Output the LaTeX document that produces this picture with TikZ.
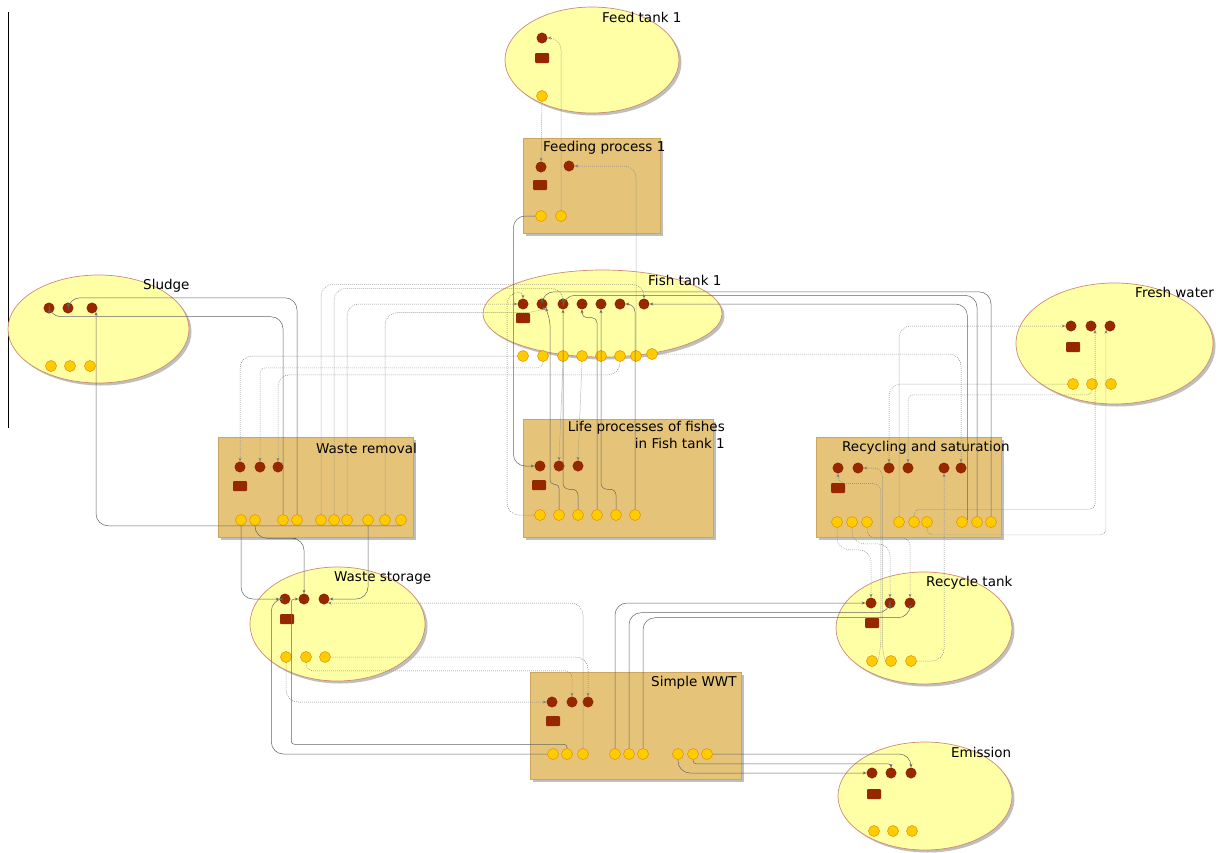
\documentclass[tikz,border=0pt]{standalone}
\usepackage{fontspec}
\setmainfont{DejaVu Sans}
\usetikzlibrary{shapes.geometric,shadows,calc,arrows.meta}
\definecolor{tankfill}{RGB}{255,255,165}
\definecolor{tankdraw}{RGB}{205,140,115}
\definecolor{procfill}{RGB}{229,196,122}
\definecolor{procdraw}{RGB}{205,165,95}
\definecolor{reddot}{RGB}{150,40,0}
\definecolor{ydot}{RGB}{255,204,0}
\definecolor{ydraw}{RGB}{225,140,0}
\definecolor{wire}{RGB}{100,100,100}
\definecolor{sigwire}{RGB}{125,125,125}
\begin{document}
\begin{tikzpicture}[x=1pt,y=-1pt,
  tank/.style={ellipse, draw=tankdraw, fill=tankfill, line width=0.7pt, inner sep=0pt,
    drop shadow={shadow xshift=2.5pt, shadow yshift=-2.5pt, fill=black!25, opacity=1}},
  proc/.style={rectangle, draw=procdraw, fill=procfill, line width=0.7pt, inner sep=0pt,
    drop shadow={shadow xshift=2.5pt, shadow yshift=-2.5pt, fill=black!25, opacity=1}},
  inp/.style={circle, fill=reddot, minimum size=11pt, inner sep=0pt},
  par/.style={rectangle, fill=reddot, minimum width=14pt, minimum height=10pt, inner sep=0pt, rounded corners=1pt},
  outp/.style={circle, fill=ydot, draw=ydraw, line width=0.5pt, minimum size=11pt, inner sep=0pt},
  lbl/.style={font=\fontsize{13.5}{17}\selectfont, inner sep=0pt, anchor=west},
  flow/.style={draw=wire, line width=0.5pt, rounded corners=12pt, -{Stealth[length=3.5pt,width=3pt]}},
  sig/.style={draw=sigwire, line width=0.5pt, rounded corners=12pt, dash pattern=on 0.8pt off 1.2pt, -{Stealth[length=3.5pt,width=3pt]}},
]
\useasboundingbox (0,0) rectangle (1223,852);
\fill[white] (0,0) rectangle (1223,852);
\draw[black, line width=0.8pt] (8,12) -- (8,428);

% containers
\node[tank, minimum width=174pt, minimum height=106pt] (ft) at (592,60) {};
\node[proc, minimum width=137pt, minimum height=95pt] (fp) at (591.5,185.5) {};
\node[tank, minimum width=239pt, minimum height=87pt] (fish) at (602.5,313.5) {};
\node[tank, minimum width=181pt, minimum height=108pt] (sl) at (98.5,329) {};
\node[tank, minimum width=197pt, minimum height=121pt] (fw) at (1114.5,343.5) {};
\node[proc, minimum width=195pt, minimum height=100pt] (wr) at (315.5,487) {};
\node[proc, minimum width=190pt, minimum height=118pt] (lp) at (618,478) {};
\node[proc, minimum width=185pt, minimum height=100pt] (rs) at (908.5,487) {};
\node[tank, minimum width=175pt, minimum height=114pt] (ws) at (337.5,624) {};
\node[tank, minimum width=176pt, minimum height=112pt] (rt) at (924,628) {};
\node[proc, minimum width=211pt, minimum height=107pt] (wwt) at (635.5,725.5) {};
\node[tank, minimum width=174pt, minimum height=108pt] (em) at (925,796) {};

% labels
\node[lbl] (ftl) at (602,17) {Feed tank 1};
\node[lbl] (fpl) at (543,148) {Feeding process 1};
\node[lbl] (fishl) at (648,280) {Fish tank 1};
\node[lbl] (sll) at (143,286) {Sludge};
\node[lbl] (fwl) at (1135,292) {Fresh water};
\node[lbl] (wrl) at (316,448) {Waste removal};
\node[lbl, anchor=north east, align=right] (lpl) at (725,421) {Life processes of fishes\\in Fish tank 1};
\node[lbl] (rsl) at (842,448) {Recycling and saturation};
\node[lbl] (wsl) at (334,578) {Waste storage};
\node[lbl] (rtl) at (926,583) {Recycle tank};
\node[lbl] (wwtl) at (651,683) {Simple WWT};
\node[lbl] (eml) at (951,752) {Emission};

% ports
\node[inp] (ftr1) at (542,38) {};
\node[par] (ftq) at (542,58) {};
\node[outp] (fty1) at (542,96) {};

\node[inp] (fpr1) at (541,167) {};
\node[inp] (fpr2) at (569,166) {};
\node[par] (fpq) at (540,185) {};
\node[outp] (fpy1) at (541,216) {};
\node[outp] (fpy2) at (561,216) {};

\foreach \x [count=\i] in {523,542,563,582,601,620,644} \node[inp] (fishr\i) at (\x,304) {};
\node[par] (fishq) at (523,318) {};
\foreach \x [count=\i] in {523,543,563,582,601,620,636} \node[outp] (fishy\i) at (\x,356) {};
\node[outp] (fishy8) at (652,354) {};

\foreach \x [count=\i] in {49,68,92} \node[inp] (slr\i) at (\x,308) {};
\foreach \x [count=\i] in {51,70,90} \node[outp] (sly\i) at (\x,366) {};

\foreach \x [count=\i] in {1071,1091,1110} \node[inp] (fwr\i) at (\x,326) {};
\node[par] (fwq) at (1073,347) {};
\foreach \x [count=\i] in {1073,1092,1111} \node[outp] (fwy\i) at (\x,384) {};

\foreach \x [count=\i] in {240,260,278} \node[inp] (wrr\i) at (\x,467) {};
\node[par] (wrq) at (240,486) {};
\foreach \x [count=\i] in {241,255,283,297,321,334,347,368,385,401} \node[outp] (wry\i) at (\x,520) {};

\foreach \x [count=\i] in {540,559,578} \node[inp] (lpr\i) at (\x,466) {};
\node[par] (lpq) at (539,485) {};
\foreach \x [count=\i] in {540,559,578,597,616,635} \node[outp] (lpy\i) at (\x,515) {};

\foreach \x [count=\i] in {838,858,889,908,944,961} \node[inp] (rsr\i) at (\x,468) {};
\node[par] (rsq) at (838,488) {};
\foreach \x [count=\i] in {837,852,867,899,914,927,962,977,991} \node[outp] (rsy\i) at (\x,522) {};

\foreach \x [count=\i] in {871,890,910} \node[inp] (rtr\i) at (\x,603) {};
\node[par] (rtq) at (872,623) {};
\foreach \x [count=\i] in {872,891,911} \node[outp] (rty\i) at (\x,661) {};

\foreach \x [count=\i] in {285,304,324} \node[inp] (wsr\i) at (\x,599) {};
\node[par] (wsq) at (287,619) {};
\foreach \x [count=\i] in {286,306,325} \node[outp] (wsy\i) at (\x,657) {};

\foreach \x [count=\i] in {552,572,588} \node[inp] (wwtr\i) at (\x,702) {};
\node[par] (wwtq) at (553,721) {};
\foreach \x [count=\i] in {553,567,583,615,629,643,678,693,707} \node[outp] (wwty\i) at (\x,754) {};

\foreach \x [count=\i] in {872,891,911} \node[inp] (emr\i) at (\x,773) {};
\node[par] (emq) at (874,794) {};
\foreach \x [count=\i] in {874,893,912} \node[outp] (emy\i) at (\x,831) {};

% ---- signal connectors (dotted)
\draw[sig] (fty1) -- (fpr1);
\draw[sig] (fpy2.north) |- (ftr1.east);
\draw[sig] (fishy7.north) |- (fpr2.east);
\draw[sig] (fishy1.west) -| (wrr1.north);
\draw[sig, rounded corners=5pt] (fishy2.south) -- ++(0,6) -| (wrr2.north);
\draw[sig] (fishy6.south) -- ++(0,13) -| (wrr3.north);
\draw[sig] (fishy3.south) -- (lpr2.north);
\draw[sig] (fishy4.south) -- (lpr3.north);
\draw[sig] (lpy1.west) -| ($(fishr1.north)+(-16,-6)$) [rounded corners=4pt] -| (fishr1.north);
\draw[sig] (wry5.north) |- ($(fishr7.north)+(0,-14)$) -- (fishr7.north);
\draw[sig] (wry6.north) |- ($(fishr3.north)+(0,-10)$) [rounded corners=5pt] -- (fishr3.north);
\draw[sig] (wry7.north) |- (fishr1.west);
\draw[sig] (wry9.north) |- ($(fishr2.south)+(-6,3)$) [rounded corners=3pt] -- (fishr2.south);
\draw[sig] (fwy1.west) -| (rsr3.north);
\draw[sig, rounded corners=5pt] (fwy2.south) -- ++(0,5) -| (rsr4.north);
\draw[sig] (fishy8.east) -| (rsr6.north);
\draw[sig] (rsy4.north) |- (fwr1.west);
\draw[sig, rounded corners=6pt] (rsy5.north) -- ++(0,-7) -| (fwr2.south east);
\draw[sig, rounded corners=6pt] (rsy6.south) -- ++(0,7) -| (fwr3.south west);
\draw[sig] (rsy1.south) -- ++(0,22) -| (rtr1.north);
\draw[sig] (rsy2.south) -- ++(0,16) -| (rtr2.north);
\draw[sig, rounded corners=8pt] (rsy3.south) -- ++(0,10) -| (rtr3.north);
\draw[sig, rounded corners=8pt] (rty1.east) -- ++(3,-12) |- ($(rsr1.south)+(0,10)$) -- (rsr1.south);
\draw[sig, rounded corners=8pt] (rty2.west) -- ++(-3,-12) |- (rsr2.east);
\draw[sig] (rty3.east) -| (rsr5.south);
\draw[sig] (wsy1.south) |- (wwtr1.west);
\draw[sig] (wsy3.east) -| (wwtr3.north);
\draw[sig, rounded corners=7pt] (wsy2.south) -- ++(0,8) -| (wwtr2.north);
\draw[sig] (wwty3.north) |- (wsr3.south east);

% ---- flow connectors (solid)
\draw[flow] (fpy1.west) -| ($(lpr1.west)+(-21,0)$) -- (lpr1.west);
\draw[flow, rounded corners=4pt] (lpy2.north) -- ++(0,-25) -| ($(fishr2.south)+(8,12)$) -- (fishr2.south east);
\draw[flow, rounded corners=6pt] (lpy3.north) -- ++(0,-20) -| (fishr3.south);
\draw[flow, rounded corners=5pt] (lpy4.north) |- ($(fishr4.south)+(0,8)$) -- (fishr4.south);
\draw[flow, rounded corners=6pt] (lpy5.north) -- ++(0,-20) -| (fishr5.south);
\draw[flow, rounded corners=8pt] (lpy6.north) |- (fishr6.east);
\draw[flow] (rsy7.20) |- (fishr7.east);
\draw[flow] (rsy8.north) |- ($(fishr3.north)+(0,-3)$) [rounded corners=1pt] -- (fishr3.north);
\draw[flow] (rsy9.north) |- ($(fishr2.north)+(0,-6.5)$) [rounded corners=3pt] -- (fishr2.north);
\draw[flow] (wry3.north) |- ($(slr1.south)+(0,3)$) [rounded corners=1pt] -- (slr1.south);
\draw[flow] (wry4.north) |- ($(slr2.north)+(0,-4.5)$) [rounded corners=2pt] -- (slr2.north);
\draw[flow] (wry10.south) -| (slr3.south east);
\draw[flow] (wry1.south) |- (wsr1.west);
\draw[flow] (wry2.south) |- ($(wsr2.north)+(-20,-55)$) -| (wsr2.north);
\draw[flow] (wry8.south) |- (wsr3.east);
\draw[flow] (wwty1.west) -| ($(wsr1.west)+(-8,0)$) [rounded corners=3pt] -- (wsr1.west);
\draw[flow, rounded corners=3pt] (wwty2.north) -- ++(0,-4) -| ($(wsr2.west)+(-7,0)$) -- (wsr2.west);
\draw[flow] (wwty4.north) |- (rtr1.west);
\draw[flow] (wwty5.north) |- ($(rtr2.south)+(0,4)$) [rounded corners=2pt] -- (rtr2.south);
\draw[flow] (wwty6.north) |- ($(rtr3.south)+(0,9)$) [rounded corners=4pt] -- (rtr3.south);
\draw[flow] (wwty7.south) |- (emr1.west);
\draw[flow, rounded corners=3pt] (wwty8.south) -- ++(0,4) -| (emr2.north);
\draw[flow] (wwty9.east) -| (emr3.north);
\end{tikzpicture}
\end{document}
